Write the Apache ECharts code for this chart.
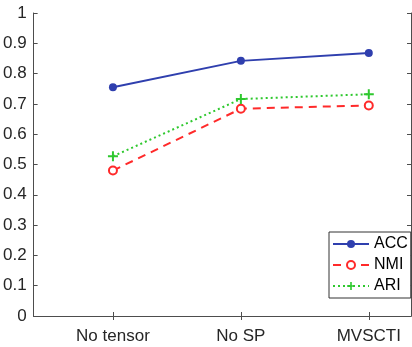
<!DOCTYPE html>
<html>
<head>
<meta charset="utf-8">
<script src="https://cdn.jsdelivr.net/npm/echarts@6/dist/echarts.min.js"></script>
<style>
  html, body { margin: 0; padding: 0; background: #fff; }
  #container { width: 412px; height: 347px; }
</style>
</head>
<body>
<div id="container"></div>
<script>
const categories = ['No tensor', 'No SP', 'MVSCTI']
const positions = [1, 2, 3]
const acc = [0.755, 0.842, 0.868]
const nmi = [0.480, 0.684, 0.695]
const ari = [0.527, 0.716, 0.732]

const pair = (vals) => vals.map((v, i) => [positions[i], v])
const plusPath = 'path://M4,0H6V4H10V6H6V10H4V6H0V4H4Z'
const font = 'Liberation Sans, Arial, sans-serif'
const axisColor = '#4d4d4d'

const myChart = echarts.init(document.getElementById('container'))

const option = {
    backgroundColor: '#fff',
    animation: false,
    textStyle: { fontFamily: font },
    grid: { left: 31, right: 1, top: 13, bottom: 31 },
    legend: {
        orient: 'vertical',
        left: 329,
        top: 232,
        data: ['ACC', 'NMI', 'ARI'],
        backgroundColor: '#fff',
        borderColor: '#333',
        borderWidth: 1,
        padding: [4, 3, 4, 3],
        itemWidth: 36,
        itemHeight: 10,
        itemGap: 5,
        textStyle: { fontFamily: font, fontSize: 16, color: '#000' }
    },
    xAxis: [
        {
            type: 'value',
            min: 0.38,
            max: 3.33,
            axisLine: { show: true, lineStyle: { color: axisColor } },
            axisTick: { show: true, inside: true, length: 4, customValues: positions, lineStyle: { color: axisColor } },
            axisLabel: {
                customValues: positions,
                fontFamily: font,
                fontSize: 17,
                color: '#262626',
                margin: 12,
                formatter: (v) => categories[Math.round(v) - 1] || ''
            },
            splitLine: { show: false }
        },
        {
            type: 'value',
            position: 'top',
            min: 0.38,
            max: 3.33,
            axisLine: { show: true, lineStyle: { color: axisColor } },
            axisTick: { show: true, inside: true, length: 4, customValues: positions, lineStyle: { color: axisColor } },
            axisLabel: { show: false },
            splitLine: { show: false }
        }
    ],
    yAxis: [
        {
            type: 'value',
            min: 0,
            max: 1,
            interval: 0.1,
            axisLine: { show: true, lineStyle: { color: axisColor } },
            axisTick: { show: true, inside: true, length: 4, lineStyle: { color: axisColor } },
            axisLabel: { fontFamily: font, fontSize: 17, color: '#262626', margin: 7 },
            splitLine: { show: false }
        },
        {
            type: 'value',
            position: 'right',
            min: 0,
            max: 1,
            interval: 0.1,
            axisLine: { show: true, lineStyle: { color: axisColor } },
            axisTick: { show: true, inside: true, length: 4, lineStyle: { color: axisColor } },
            axisLabel: { show: false },
            splitLine: { show: false }
        }
    ],
    series: [
        {
            name: 'ACC',
            type: 'line',
            data: pair(acc),
            symbol: 'circle',
            symbolSize: 8,
            lineStyle: { color: '#2f3fae', width: 2 },
            itemStyle: { color: '#2f3fae' }
        },
        {
            name: 'NMI',
            type: 'line',
            data: pair(nmi),
            symbol: 'emptyCircle',
            symbolSize: 8,
            lineStyle: { color: '#ff2a2a', width: 2, type: [8, 6] },
            itemStyle: { color: '#ff2a2a', borderColor: '#ff2a2a', borderWidth: 2 }
        },
        {
            name: 'ARI',
            type: 'line',
            data: pair(ari),
            symbol: plusPath,
            symbolSize: 10,
            lineStyle: { color: '#2ec82e', width: 2, type: [2, 3] },
            itemStyle: { color: '#2ec82e' }
        }
    ]
}

myChart.setOption(option)
</script>
</body>
</html>
